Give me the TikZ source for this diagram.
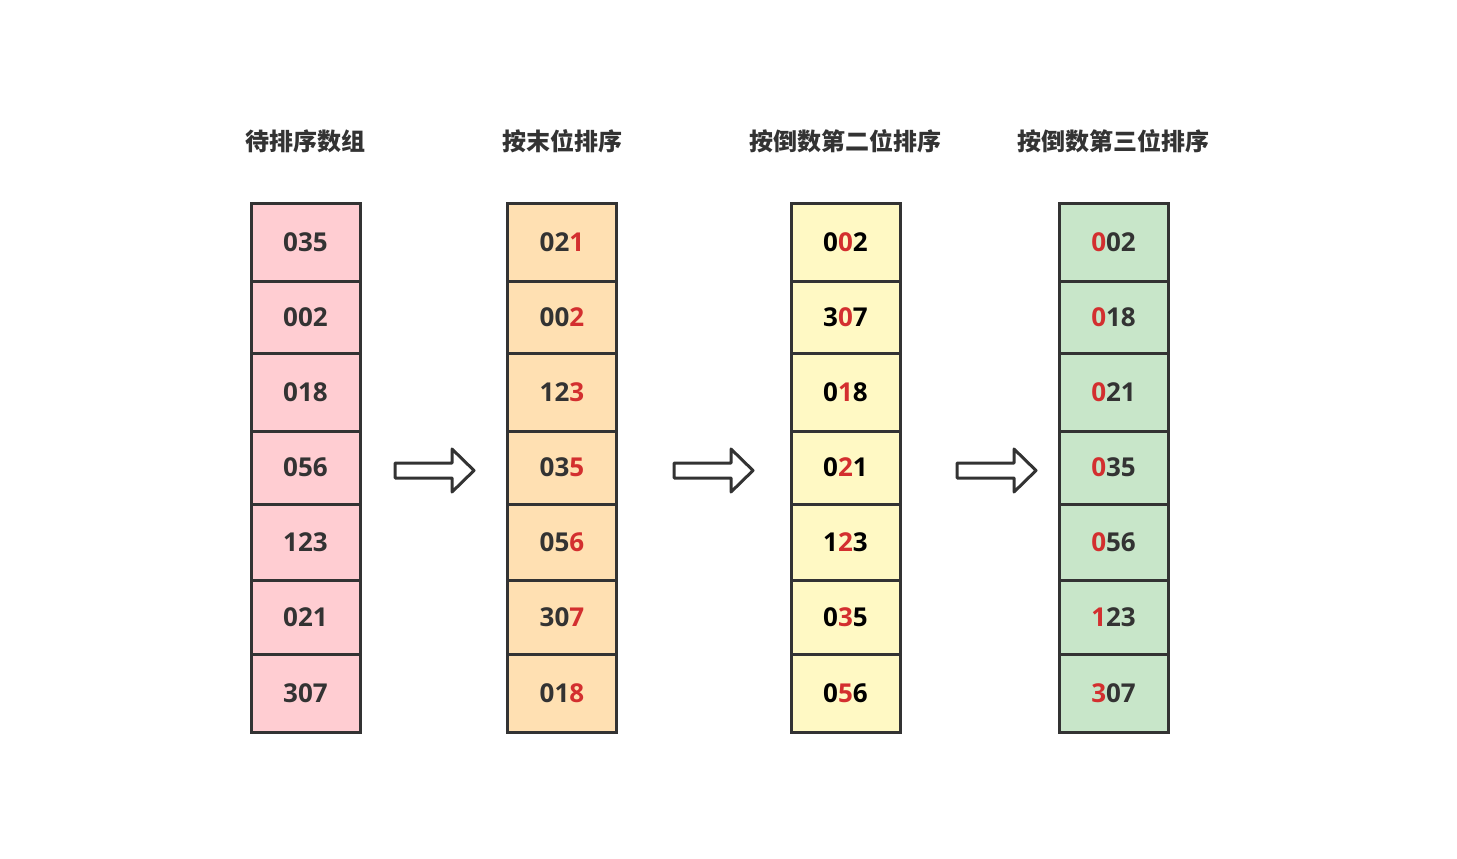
\documentclass[tikz,border=0pt]{standalone}
\usepackage{fontspec}
\setmainfont{Open Sans}
\newfontfamily\cjk{Noto Sans CJK SC}
\usetikzlibrary{positioning}
\definecolor{lined}{HTML}{333333}
\definecolor{hlred}{HTML}{D32F2F}
\definecolor{pinkc}{HTML}{FFCDD2}
\definecolor{orangec}{HTML}{FFE0B2}
\definecolor{yellowc}{HTML}{FFF9C4}
\definecolor{greenc}{HTML}{C8E6C9}
\newcommand{\hl}[1]{\textcolor{hlred}{#1}}
\def\rowy{{242,317,392,467.5,542,617,693}}
\def\rowh{{78,72,78,73,76,74,78}}

\begin{document}
\begin{tikzpicture}[x=1pt,y=-1pt]
  \tikzstyle{cell}=[draw=lined, line width=3pt, rectangle, outer sep=0pt,
    minimum width=109pt, inner sep=0pt,
    font=\fontsize{26}{30}\selectfont\bfseries]
  \tikzstyle{title}=[font=\cjk\fontsize{24}{28}\selectfont\bfseries, text=lined]
  \tikzstyle{fat}=[draw=lined, line width=3pt, fill=white, line join=round]
  \useasboundingbox (0,0) rectangle (1457,859);
  % columns of cells
  \foreach \col/\x/\fc/\tc/\vals in {
      a/305.5/pinkc/lined/{035,002,018,056,123,021,307},
      b/562/orangec/lined/{02\hl{1},00\hl{2},12\hl{3},03\hl{5},05\hl{6},30\hl{7},01\hl{8}},
      c/845.5/yellowc/black/{0\hl{0}2,3\hl{0}7,0\hl{1}8,0\hl{2}1,1\hl{2}3,0\hl{3}5,0\hl{5}6},
      d/1113.5/greenc/lined/{\hl{0}02,\hl{0}18,\hl{0}21,\hl{0}35,\hl{0}56,\hl{1}23,\hl{3}07}}
    \foreach \v [count=\i] in \vals {
      \pgfmathsetmacro\yc{\rowy[\i-1]}
      \pgfmathsetmacro\hc{\rowh[\i-1]}
      \node (\col\i) [cell, fill=\fc, text=\tc, minimum height=\hc pt]
        at (\x,\yc) {\raisebox{-2pt}{\v}};
    }
  % titles
  \node (ta) [title] at (305.5,141) {待排序数组};
  \node (tb) [title] at (562,141) {按末位排序};
  \node (tc) [title] at (845.5,141) {按倒数第二位排序};
  \node (td) [title] at (1113.5,141) {按倒数第三位排序};
  % arrows
  \foreach \s in {395,674,957}
    \draw [fat] (\s,463) -- +(57,0) -- +(57,-14) -- +(79,7.5) -- +(57,29)
      -- +(57,15) -- +(0,15) -- cycle;
\end{tikzpicture}
\end{document}
